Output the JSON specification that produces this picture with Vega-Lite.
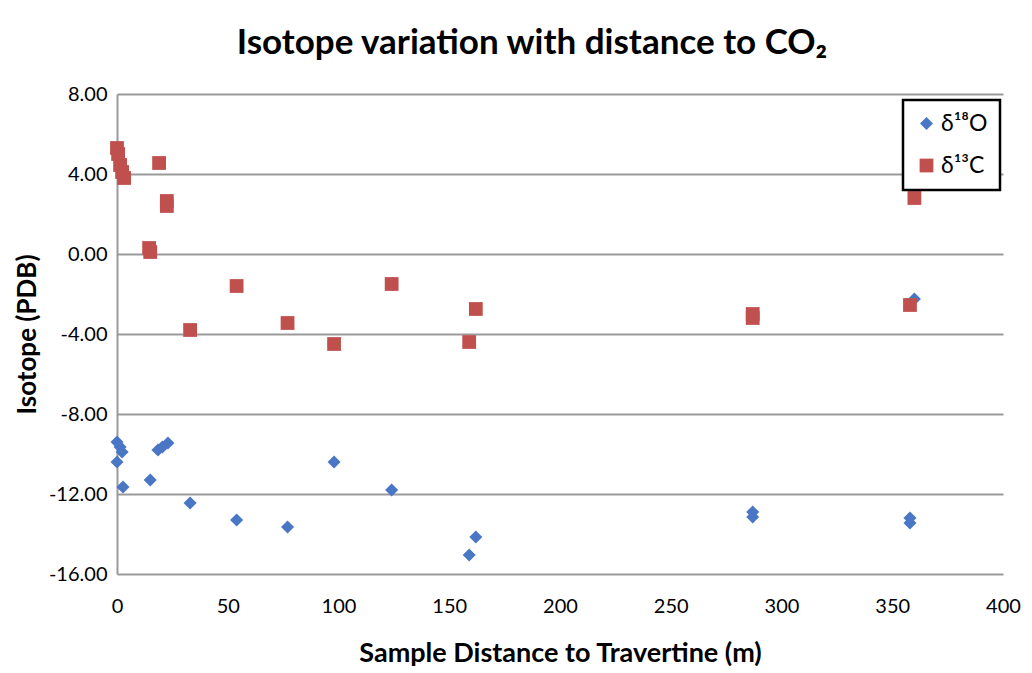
{
  "$schema": "https://vega.github.io/schema/vega-lite/v6.json",
  "width": 886,
  "height": 480,
  "autosize": {"type": "none"},
  "padding": {"left": 117, "top": 94, "right": 29, "bottom": 99},
  "background": "white",
  "title": {
    "text": "Isotope variation with distance to CO₂",
    "font": "Lato",
    "fontSize": 35,
    "fontWeight": "bold",
    "color": "#000000",
    "anchor": "middle",
    "dx": -28,
    "offset": 23
  },
  "data": {
    "values": [
      {"series": "δ¹⁸O", "distance": 0, "isotope": -9.4},
      {"series": "δ¹⁸O", "distance": 1.4, "isotope": -9.65},
      {"series": "δ¹⁸O", "distance": 2.3, "isotope": -9.9},
      {"series": "δ¹⁸O", "distance": 0, "isotope": -10.4},
      {"series": "δ¹⁸O", "distance": 2.7, "isotope": -11.65},
      {"series": "δ¹⁸O", "distance": 15, "isotope": -11.3},
      {"series": "δ¹⁸O", "distance": 18.5, "isotope": -9.8},
      {"series": "δ¹⁸O", "distance": 20.5, "isotope": -9.65},
      {"series": "δ¹⁸O", "distance": 23, "isotope": -9.45},
      {"series": "δ¹⁸O", "distance": 33, "isotope": -12.45},
      {"series": "δ¹⁸O", "distance": 54, "isotope": -13.3},
      {"series": "δ¹⁸O", "distance": 77, "isotope": -13.65},
      {"series": "δ¹⁸O", "distance": 98, "isotope": -10.4},
      {"series": "δ¹⁸O", "distance": 124, "isotope": -11.8},
      {"series": "δ¹⁸O", "distance": 159, "isotope": -15.05},
      {"series": "δ¹⁸O", "distance": 162, "isotope": -14.15},
      {"series": "δ¹⁸O", "distance": 287, "isotope": -12.9},
      {"series": "δ¹⁸O", "distance": 287, "isotope": -13.15},
      {"series": "δ¹⁸O", "distance": 358, "isotope": -13.2},
      {"series": "δ¹⁸O", "distance": 358, "isotope": -13.45},
      {"series": "δ¹⁸O", "distance": 360, "isotope": -2.25},
      {"series": "δ¹³C", "distance": 0, "isotope": 5.3},
      {"series": "δ¹³C", "distance": 0.5, "isotope": 5.0},
      {"series": "δ¹³C", "distance": 1.4, "isotope": 4.45},
      {"series": "δ¹³C", "distance": 2.3, "isotope": 4.1},
      {"series": "δ¹³C", "distance": 3.2, "isotope": 3.8},
      {"series": "δ¹³C", "distance": 14.5, "isotope": 0.3},
      {"series": "δ¹³C", "distance": 15, "isotope": 0.1},
      {"series": "δ¹³C", "distance": 19, "isotope": 4.55},
      {"series": "δ¹³C", "distance": 22.5, "isotope": 2.65},
      {"series": "δ¹³C", "distance": 22.5, "isotope": 2.4},
      {"series": "δ¹³C", "distance": 33, "isotope": -3.8},
      {"series": "δ¹³C", "distance": 54, "isotope": -1.6},
      {"series": "δ¹³C", "distance": 77, "isotope": -3.45},
      {"series": "δ¹³C", "distance": 98, "isotope": -4.5},
      {"series": "δ¹³C", "distance": 124, "isotope": -1.5},
      {"series": "δ¹³C", "distance": 159, "isotope": -4.4},
      {"series": "δ¹³C", "distance": 162, "isotope": -2.75},
      {"series": "δ¹³C", "distance": 287, "isotope": -3.0},
      {"series": "δ¹³C", "distance": 287, "isotope": -3.2},
      {"series": "δ¹³C", "distance": 358, "isotope": -2.55},
      {"series": "δ¹³C", "distance": 360, "isotope": 2.8}
    ]
  },
  "mark": {"type": "point", "filled": true, "opacity": 1},
  "encoding": {
    "x": {
      "field": "distance",
      "type": "quantitative",
      "scale": {"domain": [0, 400], "nice": false, "zero": true},
      "axis": {
        "values": [0, 50, 100, 150, 200, 250, 300, 350, 400],
        "title": "Sample Distance  to Travertine (m)",
        "titleFontSize": 27,
        "grid": false,
        "ticks": false,
        "domain": false,
        "labelFlush": false,
        "labelPadding": 22,
        "titlePadding": 24
      }
    },
    "y": {
      "field": "isotope",
      "type": "quantitative",
      "scale": {"domain": [-16, 8], "nice": false},
      "axis": {
        "values": [-16, -12, -8, -4, 0, 4, 8],
        "format": ".2f",
        "labelExpr": "replace(datum.label, '−', '-')",
        "title": "Isotope (PDB)",
        "titleFontSize": 26,
        "grid": true,
        "ticks": false,
        "domain": true,
        "labelFlush": false,
        "labelPadding": 10,
        "titlePadding": 8
      }
    },
    "color": {
      "field": "series",
      "type": "nominal",
      "scale": {"domain": ["δ¹⁸O", "δ¹³C"], "range": ["#4a76c6", "#c0504d"]},
      "legend": {
        "title": null,
        "orient": "none",
        "legendX": 786,
        "legendY": 6,
        "strokeColor": "#000000",
        "fillColor": "#ffffff",
        "padding": 12,
        "labelFont": "Lato",
        "labelFontSize": 23,
        "labelColor": "#000000",
        "symbolSize": 120,
        "rowPadding": 18,
        "labelOffset": 3
      }
    },
    "shape": {
      "field": "series",
      "type": "nominal",
      "scale": {"domain": ["δ¹⁸O", "δ¹³C"], "range": ["diamond", "square"]}
    },
    "size": {
      "field": "series",
      "type": "nominal",
      "scale": {"domain": ["δ¹⁸O", "δ¹³C"], "range": [170, 190]},
      "legend": null
    }
  },
  "config": {
    "view": {"stroke": null},
    "axis": {
      "labelFont": "Lato",
      "labelFontSize": 20,
      "labelColor": "#000000",
      "titleFont": "Lato",
      "titleFontWeight": "bold",
      "titleColor": "#000000",
      "gridColor": "#9a9a9a",
      "gridWidth": 2,
      "gridOpacity": 1,
      "domainColor": "#9a9a9a",
      "domainWidth": 2
    },
    "legend": {"strokeWidth": 2.5}
  }
}
